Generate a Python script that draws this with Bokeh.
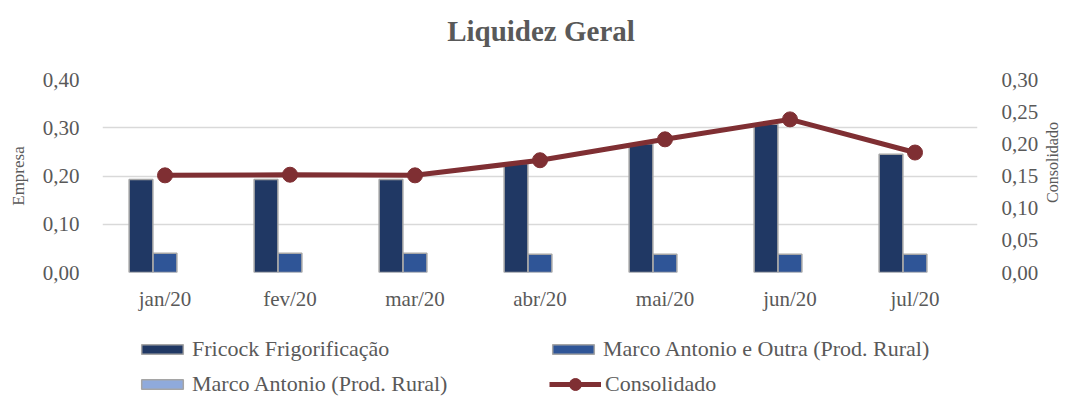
import math
from bokeh.plotting import figure
from bokeh.layouts import column, row
from bokeh.core.properties import value
from bokeh.models import (FactorRange, Range1d, LinearAxis, FixedTicker,
                          CustomJSTickFormatter, Legend, LegendItem, ColumnDataSource)
from bokeh.transform import dodge
from bokeh.embed import file_html
from bokeh.resources import INLINE

title_text = ["Liquidez Geral"]
right_title = ["Consolidado"]
months = ["jan/20", "fev/20", "mar/20", "abr/20", "mai/20", "jun/20", "jul/20"]
fricock = [0.193, 0.193, 0.193, 0.226, 0.267, 0.307, 0.245]
marco_outra = [0.040, 0.040, 0.040, 0.038, 0.038, 0.038, 0.038]
marco = [float("nan")] * 7
consolidado = [0.151, 0.152, 0.151, 0.1745, 0.207, 0.238, 0.1865]
left_ticks = [0.0, 0.1, 0.2, 0.3, 0.4]
right_ticks = [0.0, 0.05, 0.10, 0.15, 0.20, 0.25, 0.30]

FONT = "Liberation Serif"
TXT = "#595959"
C_DARK, C_MED, C_LIGHT, C_LINE, C_EDGE = "#203864", "#2f5597", "#8faadc", "#7f2f33", "#a5a5a5"
FMT = "return tick.toFixed(2).replace('.', ',')"


def bare(fig):
    fig.outline_line_color = None
    fig.xgrid.visible = False
    fig.ygrid.visible = False
    return fig


# ---- title strip ----
hf = bare(figure(width=1061, height=60, output_backend="svg", toolbar_location=None,
                 x_axis_type=None, y_axis_type=None, x_range=Range1d(0, 1), y_range=Range1d(0, 1),
                 min_border_left=102, min_border_right=82, min_border_top=0, min_border_bottom=0))
hf.text(x=[0.5], y=[0.5], text=title_text, text_align="center", text_baseline="middle",
        text_font=value(FONT), text_font_size="29px", text_font_style="bold", text_color=TXT)

# ---- main chart ----
src = ColumnDataSource(dict(m=months, f=fricock, mo=marco_outra, ma=marco, c=consolidado))
p = figure(x_range=FactorRange(*months), y_range=Range1d(0, 0.4),
           width=1041, height=270, output_backend="svg", toolbar_location=None,
           min_border_left=102, min_border_right=62, min_border_top=19, min_border_bottom=58)
p.outline_line_color = None
p.extra_y_ranges = {"cons": Range1d(0, 0.30)}

bw = 0.19
p.vbar(x=dodge("m", -0.192, range=p.x_range), top="f", width=bw, source=src,
       fill_color=C_DARK, line_color=C_EDGE, line_width=1.5)
p.vbar(x=dodge("m", 0.0, range=p.x_range), top="mo", width=bw, source=src,
       fill_color=C_MED, line_color=C_EDGE, line_width=1.5)
p.vbar(x=dodge("m", 0.192, range=p.x_range), top="ma", width=bw, source=src,
       fill_color=C_LIGHT, line_color=C_EDGE, line_width=1.5)
p.line(x="m", y="c", source=src, y_range_name="cons", line_color=C_LINE, line_width=5)
p.scatter(x="m", y="c", source=src, y_range_name="cons", size=15,
          fill_color=C_LINE, line_color=C_LINE)

ya = p.yaxis[0]
ya.ticker = FixedTicker(ticks=left_ticks)
ya.formatter = CustomJSTickFormatter(code=FMT)
ya.axis_label = "Empresa"
ra = LinearAxis(y_range_name="cons", ticker=FixedTicker(ticks=right_ticks),
                formatter=CustomJSTickFormatter(code=FMT))
p.add_layout(ra, "right")
for ax in [ya, ra, p.xaxis[0]]:
    ax.axis_line_color = None
    ax.major_tick_line_color = None
    ax.minor_tick_line_color = None
    ax.major_label_text_font = FONT
    ax.major_label_text_font_size = "21px"
    ax.major_label_text_color = TXT
    ax.axis_label_text_font = FONT
    ax.axis_label_text_font_size = "17px"
    ax.axis_label_text_font_style = "normal"
    ax.axis_label_text_color = TXT
ya.major_label_standoff = 17
ra.major_label_standoff = 18
ya.axis_label_standoff = 12
p.xaxis[0].major_label_standoff = 8

p.xgrid.grid_line_color = None
p.ygrid.grid_line_color = "#d9d9d9"
p.ygrid.grid_line_width = 1.5

# ---- right axis title strip (reads bottom-to-top) ----
tf = bare(figure(width=20, height=270, output_backend="svg", toolbar_location=None,
                 x_axis_type=None, y_axis_type=None, x_range=Range1d(0, 1), y_range=p.y_range,
                 min_border_left=0, min_border_right=0, min_border_top=19, min_border_bottom=58))
tf.text(x=[0.55], y=[0.228], text=right_title, angle=math.pi / 2, text_align="center",
        text_baseline="middle", text_font=value(FONT), text_font_size="16px", text_color=TXT)

# ---- legend strip ----
lf = bare(figure(width=1061, height=69, output_backend="svg", toolbar_location=None,
                 x_axis_type=None, y_axis_type=None, x_range=Range1d(0, 1), y_range=Range1d(0, 1),
                 min_border_left=102, min_border_right=82, min_border_top=0, min_border_bottom=0))
nan_src = ColumnDataSource(dict(x=[float("nan")], y=[float("nan")]))
g1 = lf.vbar(x="x", top="y", width=1, source=nan_src, fill_color=C_DARK, line_color=C_EDGE, line_width=1.5)
g2 = lf.vbar(x="x", top="y", width=1, source=nan_src, fill_color=C_MED, line_color=C_EDGE, line_width=1.5)
g3 = lf.vbar(x="x", top="y", width=1, source=nan_src, fill_color=C_LIGHT, line_color=C_EDGE, line_width=1.5)
g4 = lf.line(x="x", y="y", source=nan_src, line_color=C_LINE, line_width=5)
g5 = lf.scatter(x="x", y="y", source=nan_src, size=15, fill_color=C_LINE, line_color=C_LINE)


def style(lg, gh):
    lg.padding = 0
    lg.margin = 0
    lg.spacing = 9
    lg.border_line_color = None
    lg.background_fill_alpha = 0
    lg.glyph_width = 52
    lg.glyph_height = gh
    lg.label_height = 24
    lg.label_width = 346
    lg.label_standoff = 4
    lg.label_text_font = FONT
    lg.label_text_font_size = "22px"
    lg.label_text_color = TXT
    return lg


bars_legend = style(Legend(items=[
    LegendItem(label="Fricock Frigorificação", renderers=[g1]),
    LegendItem(label="Marco Antonio e Outra (Prod. Rural)", renderers=[g2]),
    LegendItem(label="Marco Antonio (Prod. Rural)", renderers=[g3]),
], location=(34, 2), orientation="horizontal", ncols=2), 12)
line_legend = style(Legend(items=[
    LegendItem(label="Consolidado", renderers=[g4, g5]),
], location=(447, 0), orientation="horizontal"), 30)
lf.add_layout(bars_legend, "center")
lf.add_layout(line_legend, "center")

layout = column(hf, row(p, tf, spacing=0), lf, spacing=0)
open("out.html", "w").write(file_html(layout, INLINE))
